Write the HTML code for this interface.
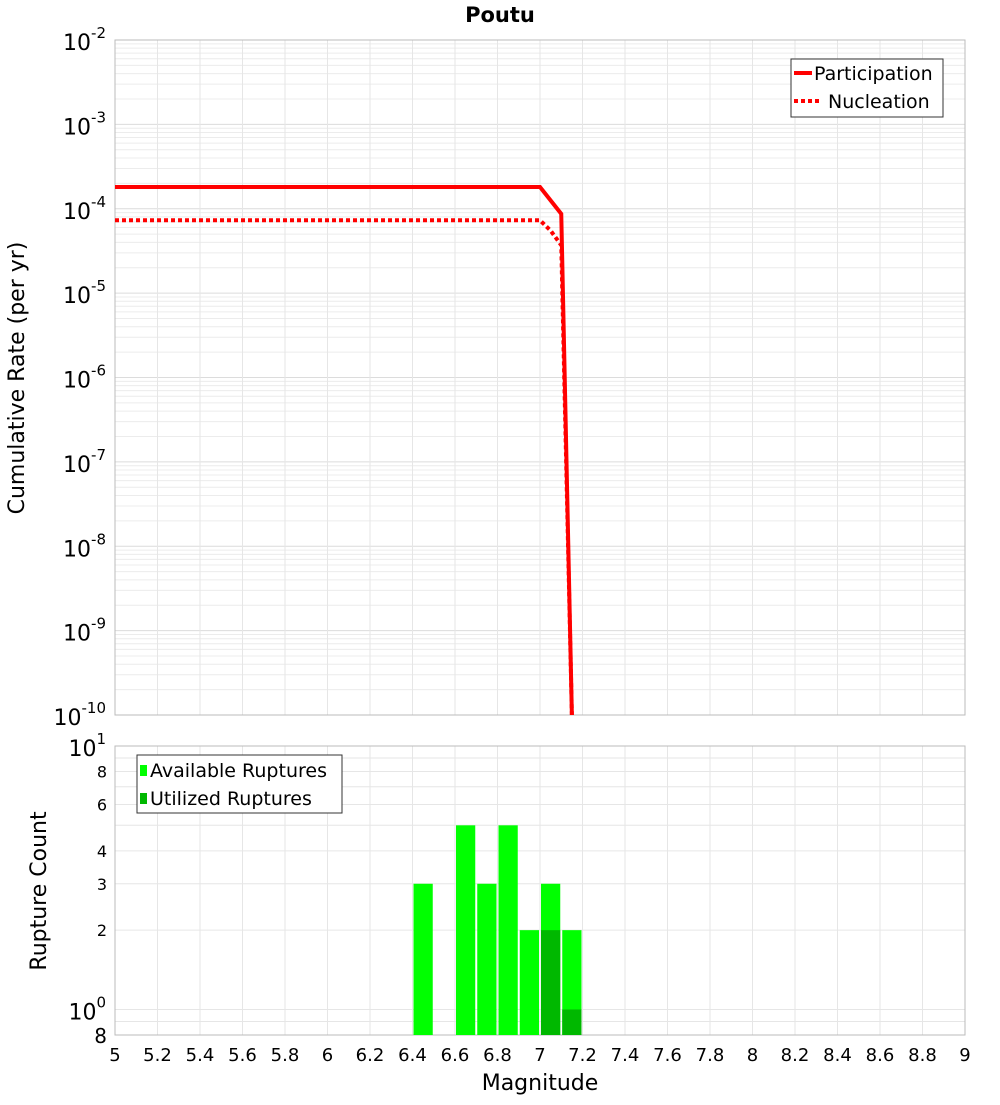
<!DOCTYPE html>
<html><head><meta charset="utf-8"><style>
body{margin:0;background:#fff;font-family:"Liberation Sans","DejaVu Sans",sans-serif}
svg text{font-family:"DejaVu Sans","Liberation Sans",sans-serif}
</style></head><body>
<svg id="c" width="1000" height="1100" xmlns="http://www.w3.org/2000/svg"></svg>
<script>
const xTicks=[5,5.2,5.4,5.6,5.8,6,6.2,6.4,6.6,6.8,7,7.2,7.4,7.6,7.8,8,8.2,8.4,8.6,8.8,9];
const partMags=[5,7.0,7.1,7.15];
const partRates=[1.81e-4,1.81e-4,8.7e-5,1e-10];
const nuclMags=[5,7.0,7.05,7.1,7.15];
const nuclRates=[7.3e-5,7.3e-5,5.5e-5,3.7e-5,1e-10];
const binMags=[6.4,6.6,6.7,6.8,6.9,7.0,7.1];
const availCounts=[3,5,3,5,2,3,2];
const usedMags=[7.0,7.1];
const usedCounts=[2,1];
const topExps=[-10,-9,-8,-7,-6,-5,-4,-3,-2];

const svg=document.getElementById('c');const NS='http://www.w3.org/2000/svg';
function mk(t,a,p,txt){const e=document.createElementNS(NS,t);for(const k in a)e.setAttribute(k,a[k]);if(txt!==undefined)e.textContent=txt;(p||svg).appendChild(e);return e;}
const X0=115,X1=965;const x=m=>X0+(m-5)/4*(X1-X0);
const T0=40,T1=715;const yT=v=>T0+(-2-Math.log10(v))/8*(T1-T0);
const B0=746,B1=1035;const yB=v=>B0+(1-Math.log10(v))/(1-Math.log10(0.8))*(B1-B0);

// title
let e=mk('text',{x:500,y:22,'text-anchor':'middle','font-size':21,'font-weight':'bold'},svg,'Poutu');


// top plot
let g=mk('g',{});
for(let d=-10;d<-2;d++)for(let k=2;k<10;k++){const yy=yT(k*Math.pow(10,d));mk('line',{x1:X0,x2:X1,y1:yy,y2:yy,stroke:'#ececec','stroke-width':1},g);}
topExps.forEach(d=>{const yy=yT(Math.pow(10,d));mk('line',{x1:X0,x2:X1,y1:yy,y2:yy,stroke:'#dcdcdc'},g);});
xTicks.forEach(m=>{mk('line',{x1:x(m),x2:x(m),y1:T0,y2:T1,stroke:'#e6e6e6'},g);mk('line',{x1:x(m),x2:x(m),y1:B0,y2:B1,stroke:'#e6e6e6'},g);});
mk('rect',{x:X0,y:T0,width:X1-X0,height:T1-T0,fill:'none',stroke:'#bbb'});
topExps.forEach(d=>{const yy=yT(Math.pow(10,d));const t=mk('text',{x:106,y:yy+10,'text-anchor':'end','font-size':22});

mk('tspan',{},t,'10');mk('tspan',{dy:-12,'font-size':15},t,String(d));});
e=mk('text',{x:24,y:378,'text-anchor':'middle','font-size':22,transform:'rotate(-90 24 378)'},svg,'Cumulative Rate (per yr)');

const cp=mk('clipPath',{id:'tc'});mk('rect',{x:X0,y:T0,width:X1-X0,height:T1-T0},cp);
e=mk('polyline',{points:partMags.map((m,i)=>x(m)+','+yT(partRates[i])).join(' '),fill:'none',stroke:'#f00','stroke-width':4,'clip-path':'url(#tc)'});

e=mk('polyline',{points:nuclMags.map((m,i)=>x(m)+','+yT(nuclRates[i])).join(' '),fill:'none',stroke:'#f00','stroke-width':4,'stroke-dasharray':'4 3','clip-path':'url(#tc)'});

g=mk('g',{});
mk('rect',{x:791,y:59,width:152,height:58,fill:'#fff',stroke:'#333'},g);
mk('line',{x1:794,x2:812,y1:73,y2:73,stroke:'#f00','stroke-width':4},g);
mk('text',{x:814,y:80,'font-size':19},g,'Participation');
mk('line',{x1:794,x2:822,y1:101,y2:101,stroke:'#f00','stroke-width':4,'stroke-dasharray':'4 3'},g);
mk('text',{x:828,y:108,'font-size':19},g,'Nucleation');

// bottom plot
g=mk('g',{});
[0.8,0.9,1,2,3,4,5,6,7,8,9,10].forEach(v=>{const yy=yB(v);mk('line',{x1:X0,x2:X1,y1:yy,y2:yy,stroke:'#e6e6e6'},g);});
mk('rect',{x:X0,y:B0,width:X1-X0,height:B1-B0,fill:'none',stroke:'#bbb'});
binMags.forEach((m,i)=>{const r=mk('rect',{x:x(m)+1,y:yB(availCounts[i]),width:x(m+0.1)-x(m)-2,height:B1-yB(availCounts[i]),fill:'#00ff00'});
});
usedMags.forEach((m,i)=>{const r=mk('rect',{x:x(m)+1,y:yB(usedCounts[i]),width:x(m+0.1)-x(m)-2,height:B1-yB(usedCounts[i]),fill:'#00b800'});
});
[[8,''],[6,''],[4,''],[3,''],[2,'']].forEach(([v])=>{const t=mk('text',{x:107,y:yB(v)+6,'text-anchor':'end','font-size':16},svg,String(v));});
[[10,'1'],[1,'0']].forEach(([v,ex])=>{const t=mk('text',{x:106,y:yB(v)+10,'text-anchor':'end','font-size':22});mk('tspan',{},t,'10');mk('tspan',{dy:-12,'font-size':15},t,ex);
});
mk('text',{x:107,y:1043,'text-anchor':'end','font-size':20},svg,'8');
e=mk('text',{x:46,y:891,'text-anchor':'middle','font-size':22,transform:'rotate(-90 46 891)'},svg,'Rupture Count');

g=mk('g',{});
mk('rect',{x:137,y:755,width:205,height:58,fill:'#fff',stroke:'#333'},g);
mk('rect',{x:140,y:765,width:7,height:11,fill:'#00ff00'},g);
mk('text',{x:150,y:777,'font-size':19},g,'Available Ruptures');
mk('rect',{x:140,y:793,width:7,height:11,fill:'#00b800'},g);
mk('text',{x:150,y:805,'font-size':19},g,'Utilized Ruptures');
xTicks.forEach(m=>{const t=mk('text',{x:x(m),y:1061,'text-anchor':'middle','font-size':18},svg,String(m));});
e=mk('text',{x:540,y:1090,'text-anchor':'middle','font-size':22},svg,'Magnitude');

</script>
</body></html>
